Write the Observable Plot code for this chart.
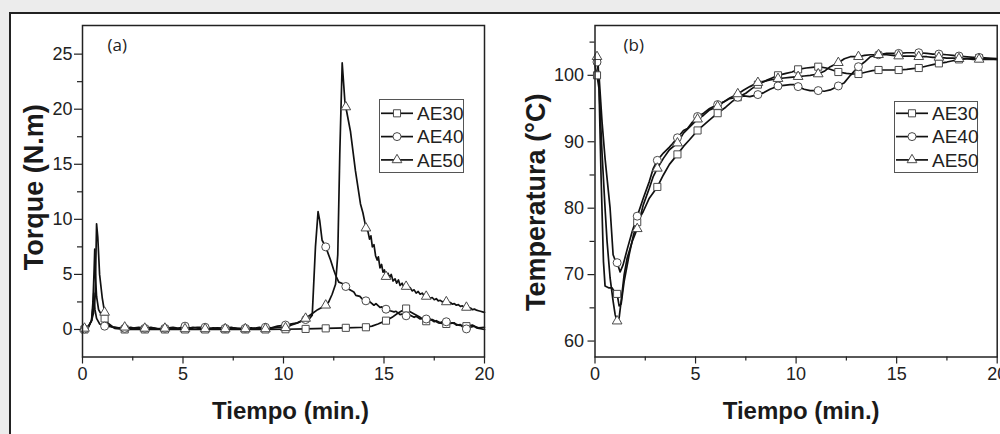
<!DOCTYPE html>
<html><head><meta charset="utf-8">
<script src="https://cdn.jsdelivr.net/npm/d3@7"></script>
<script src="https://cdn.jsdelivr.net/npm/@observablehq/plot@0.6"></script>
<style>
html,body{margin:0;padding:0;background:#ececec;}
#wrap{position:relative;width:1000px;height:434px;overflow:hidden;background:#ececec;}
#sheet{position:absolute;left:9px;top:12px;width:1100px;height:500px;background:#fff;border:2px solid #222;box-sizing:border-box;}
.panel{position:absolute;top:0;width:500px;height:434px;}
.panel svg{display:block;overflow:visible;}
.legend{position:absolute;overflow:visible;}
</style></head>
<body>
<div id="wrap"><div id="sheet"></div>
<div class="panel" id="pa" style="left:0"></div>
<div class="panel" id="pb" style="left:500px"></div>
</div>
<script>
// ---------- data ----------
const series = ["AE30", "AE40", "AE50"];
const markerTimes = [0.1,1.1,2.1,3.1,4.1,5.1,6.1,7.1,8.1,9.1,10.1,11.1,12.1,13.1,14.1,15.1,16.1,17.1,18.1,19.1];
const xTicks = [0, 5, 10, 15, 20];
const xMinor = [2.5, 7.5, 12.5, 17.5];
const yTicksTorque = [0, 5, 10, 15, 20, 25];
const yMinorTorque = [2.5, 7.5, 12.5, 17.5, 22.5];
const yTicksTemp = [60, 70, 80, 90, 100];
const yMinorTemp = [65, 75, 85, 95, 105];

// Torque (N.m) values at marker times
const torqueMarks30 = [0.0,1.0,0.0,0.0,0.0,0.0,0.0,0.0,0.0,0.0,0.02,0.05,0.1,0.15,0.2,0.8,1.9,0.75,0.5,0.3];
const torqueMarks40 = [0.05,0.3,0.1,0.1,0.1,0.3,0.2,0.1,0.1,0.2,0.4,0.9,7.5,3.9,2.6,1.84,1.24,0.95,0.7,0.05];
const torqueMarks50 = [0.1,1.55,0.2,0.1,0.1,0.05,0.05,0.05,0.05,0.05,0.15,1.0,2.2,20.2,9.2,4.8,3.9,3.0,2.5,2.0];
// Torque, remaining recorded points [min, N.m]
const torqueLine30 = [[0,0],[0.3,0.2],[0.45,0.8],[0.52,2.5],[0.58,5.5],[0.61,7.3],[0.64,5.0],[0.7,3.0],[0.8,1.8],[0.95,1.3],[1.3,0.4],[1.6,0.1],
  [14.4,0.3],[14.7,0.5],[15.4,1.1],[15.7,1.5],[15.9,1.7],[16.3,1.6],[16.5,1.4],[16.8,1.1],[17.4,0.9],[17.7,0.6],[18.4,0.6],[18.7,0.4],[19.4,0.4],[19.6,0.15],[20,0.0]];
const torqueLine40 = [[0,0],[0.3,0.3],[0.45,0.8],[0.52,2.0],[0.56,3.3],[0.62,1.8],[0.7,1.0],[0.85,0.5],[1.4,0.25],[1.7,0.15],[2.4,0.2],[2.7,0.05],[3.4,0.2],[3.7,0.05],
  [4.4,0.15],[4.7,0.05],[5.4,0.1],[5.7,0.2],[6.4,0.05],[6.7,0.15],[7.4,0.2],[7.7,0.05],[8.4,0.15],[8.7,0.05],[9.4,0.15],[9.7,0.3],[10.4,0.5],[10.7,0.6],
  [11.3,1.0],[11.43,1.3],[11.59,7.5],[11.72,10.7],[11.8,9.9],[11.92,8.1],[12.34,6.3],[12.5,5.4],[12.6,4.9],[12.75,4.3],[12.9,4.2],[13.3,3.6],[13.5,3.4],
  [13.6,3.1],[13.8,3.0],[13.9,2.8],[14.3,2.5],[14.5,2.2],[14.6,2.35],[14.8,2.0],[14.9,2.05],[15.3,1.7],[15.5,1.6],[15.6,1.65],[15.8,1.35],[15.9,1.4],
  [16.3,1.3],[16.5,1.1],[16.6,1.2],[16.8,0.95],[16.9,1.0],[17.3,0.95],[17.5,0.7],[17.6,0.8],[17.8,0.6],[17.9,0.7],[18.3,0.55],[18.5,0.6],[18.6,0.4],
  [18.8,0.45],[18.9,0.25],[19.3,0.2],[19.5,0.3],[19.7,0.15],[20,0.2]];
const torqueLine50 = [[0,0],[0.3,0.3],[0.45,0.8],[0.55,1.5],[0.63,3.0],[0.7,9.6],[0.76,8.4],[0.85,5.0],[0.98,2.9],[1.25,0.6],[1.5,0.25],[1.8,0.15],
  [2.4,0.1],[2.8,0.2],[3.5,0.15],[3.8,0.05],[4.5,0.2],[4.8,0.1],[5.5,0.2],[5.8,0.1],[6.5,0.15],[6.8,0.1],[7.5,0.15],[7.8,0.1],[8.5,0.1],[8.8,0.2],
  [9.5,0.15],[9.8,0.2],[10.4,0.4],[10.7,0.6],[11.4,1.4],[11.7,1.8],[11.9,2.0],[12.25,2.5],[12.42,3.2],[12.59,4.1],[12.7,6.8],[12.8,15.9],[12.92,24.2],
  [13.05,20.8],[13.33,18.0],[13.58,14.4],[13.83,11.4],[13.95,10.6],[14.05,9.7],[14.2,8.9],[14.28,8.2],[14.35,8.5],[14.42,7.5],[14.5,7.7],[14.58,6.7],
  [14.66,6.3],[14.72,6.6],[14.8,5.6],[14.88,5.9],[14.95,5.2],[15.02,5.4],[15.2,5.1],[15.28,4.7],[15.36,5.0],[15.45,4.4],[15.55,4.6],[15.63,4.2],
  [15.72,4.5],[15.8,4.0],[15.9,4.2],[16.0,3.8],[16.2,3.7],[16.3,3.8],[16.4,3.5],[16.5,3.6],[16.6,3.3],[16.7,3.45],[16.8,3.2],[16.9,3.3],[17.0,3.05],
  [17.2,3.0],[17.3,2.85],[17.4,2.9],[17.5,2.7],[17.6,2.8],[17.7,2.6],[17.8,2.65],[17.9,2.5],[18.0,2.55],[18.2,2.4],[18.3,2.45],[18.4,2.3],[18.5,2.35],
  [18.6,2.2],[18.7,2.25],[18.8,2.1],[18.9,2.15],[19.0,2.0],[19.2,1.9],[19.3,1.95],[19.4,1.8],[19.5,1.85],[19.6,1.75],[19.7,1.7],[19.8,1.65],[19.9,1.6],[20,1.55]];

// Temperatura (°C) values at marker times
const tempMarks30 = [100,67.1,77.9,83.2,88.1,91.7,94.3,96.7,98.6,100,100.9,101.3,100.5,100.2,100.8,100.8,101.1,101.8,102.4,102.6];
const tempMarks40 = [102,71.8,78.8,87.2,90.6,93.8,95.6,96.7,97.1,98.4,98.3,97.7,98.4,101.3,103.1,103.3,103.4,103.2,102.9,102.7];
const tempMarks50 = [102.8,63.0,76.9,86.0,89.8,93.4,95.3,97.2,98.9,99.5,99.8,100.2,101.9,102.8,103.1,102.9,102.8,102.7,102.5,102.4];
// Temperatura, remaining recorded points [min, °C]
const tempLine30 = [[0,101.5],[0.2,98],[0.3,85],[0.42,72],[0.5,68.3],[0.7,68.0],[0.85,68.0],[0.95,67.5],[1.2,65.3],[1.3,65.6],[1.45,69],[1.7,73],[1.9,75.8],
  [2.4,79.5],[2.7,81.5],[3.4,85],[3.7,86.6],[4.4,89.3],[4.7,90.3],[5.4,92.5],[5.7,93.3],[6.5,95.2],[6.8,96.0],[7.5,97.3],[7.8,98.0],[8.5,99.2],[8.8,99.6],
  [9.5,100.3],[9.8,100.5],[10.5,101.1],[10.8,101.2],[11.5,101.1],[11.8,100.8],[12.5,100.3],[12.8,100.2],[13.5,100.5],[13.8,100.7],[14.5,100.8],[14.8,100.8],
  [15.5,100.9],[15.8,101.0],[16.5,101.4],[16.8,101.6],[17.5,102.0],[17.8,102.2],[18.5,102.5],[18.8,102.5],[19.5,102.5],[20,102.4]];
const tempLine40 = [[0,102.5],[0.2,100],[0.35,93],[0.5,87.5],[0.6,84.5],[0.75,80],[0.9,73],[1.0,72.2],[1.25,70.4],[1.4,71.5],[1.6,73.8],[1.85,76.5],
  [2.4,81.5],[2.7,84],[2.9,86],[3.4,88.3],[3.7,89.2],[3.85,89.7],[4.4,91.7],[4.6,92.0],[4.8,92.8],[5.4,94.3],[5.7,95.0],[6.4,96.0],[6.7,96.5],[7.4,96.9],
  [7.7,96.8],[8.4,97.4],[8.7,97.9],[9.4,98.5],[9.7,98.6],[9.9,98.6],[10.4,97.9],[10.7,97.7],[11.4,97.6],[11.7,97.8],[12.4,98.9],[12.7,100],[13.4,102],
  [13.7,102.8],[14.5,103.3],[14.8,103.3],[15.5,103.4],[15.8,103.4],[16.5,103.3],[16.8,103.2],[17.5,103.1],[17.8,103.0],[18.5,102.8],[18.8,102.7],[19.5,102.6],[20,102.5]];
const tempLine50 = [[0,103],[0.15,102],[0.25,95],[0.35,88.3],[0.5,80],[0.6,75],[0.75,69.5],[0.9,66],[1.0,64],[1.2,63.5],[1.3,66],[1.45,70],[1.6,72.5],[1.85,75.0],
  [2.4,80.5],[2.7,83],[2.9,84.8],[3.4,87.5],[3.7,88.8],[4.4,91.3],[4.7,92.2],[5.4,94.0],[5.7,94.8],[6.4,96.0],[6.7,96.6],[7.4,97.8],[7.7,98.3],[8.4,99.1],
  [8.7,99.3],[9.4,99.6],[9.7,99.7],[10.4,99.9],[10.7,100.0],[11.4,100.6],[11.7,101.3],[12.4,102.5],[12.7,102.8],[13.4,103.0],[13.7,103.1],[14.5,103.1],
  [14.8,103.0],[15.5,102.9],[15.8,102.9],[16.5,102.8],[16.8,102.7],[17.5,102.6],[17.8,102.6],[18.5,102.5],[18.8,102.4],[19.5,102.4],[20,102.4]];

// ---------- helpers ----------
const tickFont = '"Liberation Sans", Arial, sans-serif';
const titleFont = '"Liberation Sans", Arial, sans-serif';
const symbols = {AE30: "square", AE40: "circle", AE50: "triangle"};
const symR = {AE30: 4, AE40: 4, AE50: 3.6};

function markRows(name, vals) { return markerTimes.map((t, i) => ({s: name, t, v: vals[i]})); }
function lineRows(name, pts, vals) {
  return pts.map(([t, v]) => ({s: name, t, v})).concat(markRows(name, vals)).sort((a, b) => a.t - b.t);
}

function panel({lines, marks, yDomain, yTicks, yMinor, ml, mr, ytitle, tdx, tdy, xdx, xdy, tag, tagdx, ytickSize, ytickPad}) {
  const lineData = lines.flat();
  return Plot.plot({
    width: 500, height: 434,
    marginLeft: ml, marginRight: mr, marginTop: 25, marginBottom: 77.5,
    x: {domain: [0, 20]},
    y: {domain: yDomain},
    style: {fontFamily: tickFont, fontSize: "18px", color: "#222", background: "transparent", overflow: "visible"},
    marks: [
      Plot.axisX({ticks: xTicks, tickSize: 7, tickPadding: 3, label: null, stroke: "#222", strokeWidth: 1.2, fill: "#222"}),
      Plot.axisX({ticks: xMinor, tickSize: 4, tickFormat: () => "", label: null, stroke: "#222", strokeWidth: 1.2}),
      Plot.axisY({ticks: yTicks, tickSize: ytickSize, tickPadding: ytickPad, label: null, stroke: "#222", strokeWidth: 1.2, fill: "#222"}),
      Plot.axisY({ticks: yMinor, tickSize: 5, tickFormat: () => "", label: null, stroke: "#222", strokeWidth: 1.2}),
      Plot.line(lineData, {x: "t", y: "v", z: "s", stroke: "#111", strokeWidth: 1.7, curve: "linear"}),
      ...series.map((s, i) => Plot.dot(marks[i], {x: "t", y: "v", symbol: symbols[s], r: symR[s], fill: "white", stroke: "#4a4a4a", strokeWidth: 1})),
      Plot.frame({stroke: "#222", strokeWidth: 1.5}),
      Plot.text([tag], {text: d => d, frameAnchor: "top-left", dx: tagdx, dy: 20, textAnchor: "start", lineAnchor: "middle", fontFamily: '"Open Sans", "Noto Sans", sans-serif', fontSize: 17, fill: "#222"}),
      Plot.text([ytitle], {text: d => d, frameAnchor: "left", dx: tdx, dy: tdy, rotate: -90, textAnchor: "middle", lineAnchor: "middle", fontFamily: titleFont, fontSize: 27, fontWeight: "bold", fill: "#1a1a1a"}),
      Plot.text(["Tiempo (min.)"], {text: d => d, frameAnchor: "bottom", dx: xdx, dy: xdy, textAnchor: "middle", lineAnchor: "middle", fontFamily: titleFont, fontSize: 24, fontWeight: "bold", fill: "#1a1a1a"})
    ]
  });
}

const torqueLines = [lineRows("AE30", torqueLine30, torqueMarks30), lineRows("AE40", torqueLine40, torqueMarks40), lineRows("AE50", torqueLine50, torqueMarks50)];
const torqueMarks = [markRows("AE30", torqueMarks30), markRows("AE40", torqueMarks40), markRows("AE50", torqueMarks50)];
const tempLines = [lineRows("AE30", tempLine30, tempMarks30), lineRows("AE40", tempLine40, tempMarks40), lineRows("AE50", tempLine50, tempMarks50)];
const tempMarks = [markRows("AE30", tempMarks30), markRows("AE40", tempMarks40), markRows("AE50", tempMarks50)];

document.getElementById("pa").append(panel({
  lines: torqueLines, marks: torqueMarks, yDomain: [-2.5, 27.6], yTicks: yTicksTorque, yMinor: yMinorTorque,
  ml: 82, mr: 16, ytitle: "Torque (N.m)", tdx: -48, tdy: -4, xdx: 7, xdy: 54, tag: "(a)", tagdx: 25, ytickSize: 8, ytickPad: 2
}));
document.getElementById("pb").append(panel({
  lines: tempLines, marks: tempMarks, yDomain: [57.6, 107.5], yTicks: yTicksTemp, yMinor: yMinorTemp,
  ml: 94.5, mr: 3.3, ytitle: "Temperatura (°C)", tdx: -59, tdy: 11, xdx: 5, xdy: 54, tag: "(b)", tagdx: 28.5, ytickSize: 7, ytickPad: 4
}));

// legends (boxed, inside each plot area)
function legend(left, top, w, h, firstRow) {
  const svg = d3.create("svg").attr("class", "legend").attr("width", w + 2).attr("height", h + 2)
    .style("left", left + "px").style("top", top + "px");
  svg.append("rect").attr("x", 0.5).attr("y", 0.5).attr("width", w).attr("height", h).attr("fill", "white").attr("stroke", "#555").attr("stroke-width", 1);
  series.forEach((s, i) => {
    const cy = firstRow + i * 23.3;
    const g = svg.append("g");
    g.append("line").attr("x1", 2).attr("x2", 34).attr("y1", cy).attr("y2", cy).attr("stroke", "#111").attr("stroke-width", 1.7);
    const type = {square: d3.symbolSquare, circle: d3.symbolCircle, triangle: d3.symbolTriangle}[symbols[s]];
    g.append("path").attr("transform", `translate(18,${cy})`).attr("d", d3.symbol(type, Math.PI * symR[s] * symR[s])())
      .attr("fill", "white").attr("stroke", "#4a4a4a");
    g.append("text").attr("x", 38).attr("y", cy).attr("dy", "0.36em").attr("font-family", tickFont).attr("font-size", 19).attr("fill", "#222").text(s);
  });
  return svg.node();
}
const wrap = document.getElementById("wrap");
wrap.append(legend(379, 99, 84, 73, 14.3));
wrap.append(legend(894, 101, 83, 71, 12.3));
</script>
</body></html>
